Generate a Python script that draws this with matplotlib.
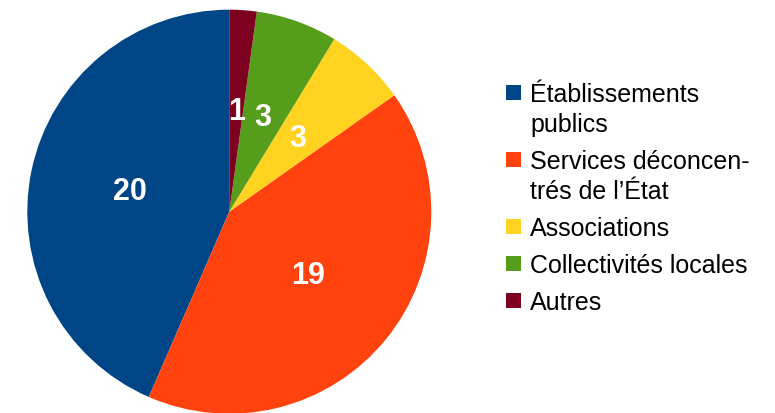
import matplotlib.pyplot as plt
from matplotlib.patches import Rectangle

labels = ['Établissements\npublics', 'Services déconcen-\ntrés de l’État',
          'Associations', 'Collectivités locales', 'Autres']
values = [20, 19, 3, 3, 1]
colors = ['#004586', '#ff420e', '#ffd320', '#579d1c', '#7e0021']

plt.rcParams['font.family'] = ['Liberation Sans', 'DejaVu Sans']

W, H = 775, 414
fig = plt.figure(figsize=(W / 100, H / 100), dpi=100)

# pie: centre ~(229, 213) px, radius ~202 px
cx, cy, r = 229.3, 212.7, 202
ax = fig.add_axes([(cx - r) / W, (H - cy - r) / H, 2 * r / W, 2 * r / H])
total = sum(values)
ax.pie(values, colors=colors, startangle=90, counterclock=True,
       autopct=lambda p: f'{round(p * total / 100):d}', pctdistance=0.5,
       wedgeprops=dict(linewidth=0),
       textprops=dict(color='white', fontweight='bold', fontsize=22))
ax.set_xlim(-1, 1)
ax.set_ylim(-1, 1)
ax.set_aspect('equal')
ax.axis('off')

# legend drawn by hand so the swatch sits on the first line
y = 102
for lab, col in zip(labels, colors):
    fig.patches.append(Rectangle((506 / W, 1 - (y - 1) / H), 15 / W, 15 / H,
                                 facecolor=col, edgecolor='none',
                                 transform=fig.transFigure))
    for i, line in enumerate(lab.split('\n')):
        fig.text(530 / W, 1 - (y + 30 * i) / H, line, fontsize=18,
                 va='baseline', ha='left', color='black')
    y += 30 * (lab.count('\n')) + 37

plt.savefig('out.png', dpi=100)
